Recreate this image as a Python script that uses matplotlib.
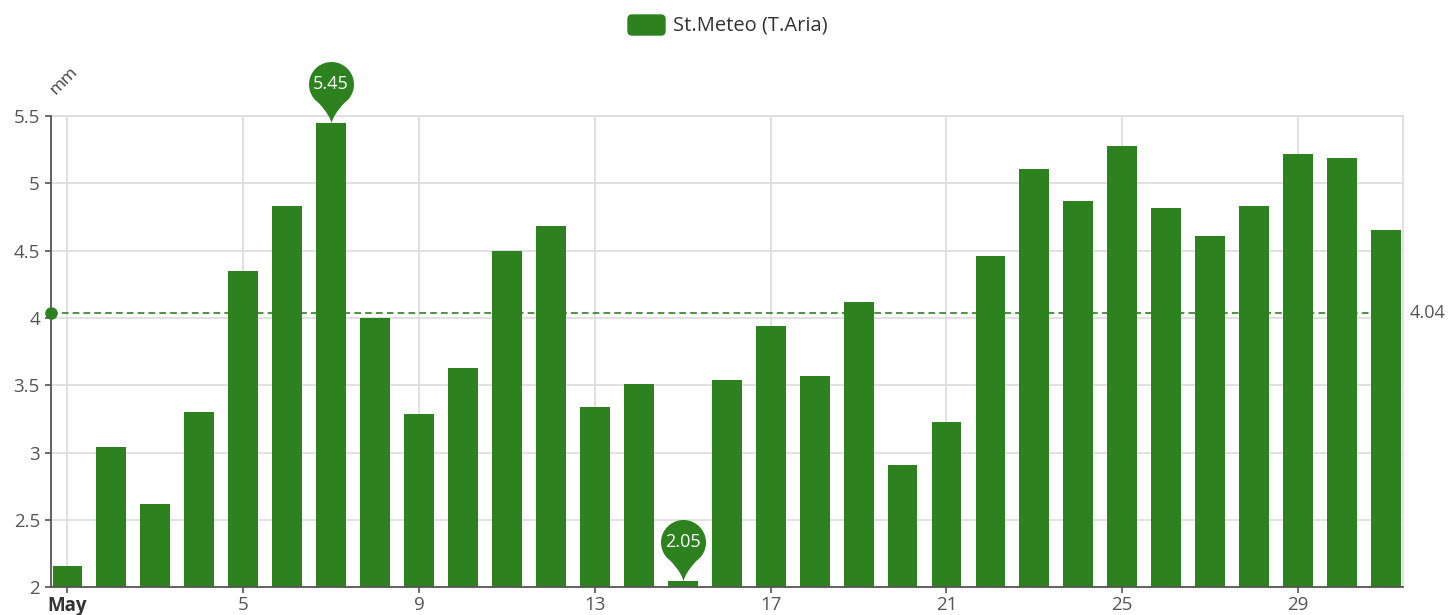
import numpy as np
import matplotlib
matplotlib.use("Agg")
import matplotlib.pyplot as plt
from matplotlib.path import Path
from matplotlib.patches import FancyBboxPatch
import matplotlib.transforms as mtransforms

# ---------------- data ----------------
days = list(range(1, 32))  # May 1 .. May 31
values = [2.16, 3.04, 2.62, 3.30, 4.35, 4.83, 5.45, 4.00, 3.29, 3.63,
          4.50, 4.68, 3.34, 3.51, 2.05, 3.54, 3.94, 3.57, 4.12, 2.91,
          3.23, 4.46, 5.11, 4.87, 5.28, 4.82, 4.61, 4.83, 5.22, 5.19, 4.65]
tick_days = [1, 5, 9, 13, 17, 21, 25, 29]
tick_labels = ["May", "5", "9", "13", "17", "21", "25", "29"]
y_ticks = [2, 2.5, 3, 3.5, 4, 4.5, 5, 5.5]
series_name = "St.Meteo (T.Aria)"
y_unit = "mm"

# ---------------- style ----------------
plt.rcParams['font.family'] = ['Open Sans', 'DejaVu Sans']
GREEN = '#2d821f'
AXIS = '#555555'
LABEL = '#555555'
GRID = '#dcdcdc'

W, H, DPI = 1448, 615, 100
fig = plt.figure(figsize=(W / DPI, H / DPI), dpi=DPI)
L, R, T, B = 51, 1402.7, 116, 587.3
ax = fig.add_axes([L / W, 1 - B / H, (R - L) / W, (B - T) / H])

ax.bar(days, values, width=0.68, color=GREEN, zorder=3)

ax.set_xlim(1 - 0.375, 31 + 0.38)
ax.set_ylim(2, 5.5)
ax.set_yticks(y_ticks)
ax.set_yticklabels([f"{v:g}" for v in y_ticks])
ax.set_xticks(tick_days)
ax.set_xticklabels(tick_labels)

ax.grid(True, color=GRID, lw=1.2, zorder=0)
for s in ('top', 'right'):
    ax.spines[s].set_color(GRID)
    ax.spines[s].set_linewidth(1.2)
for s in ('left', 'bottom'):
    ax.spines[s].set_color(AXIS)
    ax.spines[s].set_linewidth(1.3)
    ax.spines[s].set_zorder(4)
ax.tick_params(axis='both', direction='out', length=4, width=1.2, color=AXIS,
               labelcolor=LABEL, labelsize=13.5)
ax.tick_params(axis='y', pad=4)
ax.tick_params(axis='x', pad=2)
lbl0 = ax.get_xticklabels()[0]
lbl0.set_fontweight('bold')
lbl0.set_color('#333333')

# ---------------- average line ----------------
mean = float(np.mean(values))
ax.axhline(mean, color=GREEN, lw=1.2, ls=(0, (4, 2.5)), zorder=4)
ax.plot([ax.get_xlim()[0]], [mean], 'o', color=GREEN, ms=8, clip_on=False, zorder=6)
ax.annotate(f"{mean:.2f}", xy=(1, mean), xycoords=('axes fraction', 'data'),
            xytext=(5, 0), textcoords='offset points', ha='left', va='center',
            color=LABEL, fontsize=13)

# ---------------- pin markers (max / min) ----------------
r, c = 22.5, 39.0
a1, a2 = -55.0, 235.0
pr = (r * np.cos(np.radians(a1)), c + r * np.sin(np.radians(a1)))
pl = (r * np.cos(np.radians(a2)), c + r * np.sin(np.radians(a2)))
arc = Path.arc(a1, a2)
arc_v = arc.vertices[1:] * r + np.array([0, c])
arc_c = list(arc.codes[1:])
verts = [(0, 0), (0.8, 5), (5, 12), pr] + [tuple(v) for v in arc_v] + \
        [(-5, 12), (-0.8, 5), (0, 0), (0, 0)]
codes = [Path.MOVETO, Path.CURVE4, Path.CURVE4, Path.CURVE4] + arc_c + \
        [Path.CURVE4, Path.CURVE4, Path.CURVE4, Path.CLOSEPOLY]
pin = Path(np.array(verts), codes)
rescale = np.max(np.abs(pin.vertices))
ms = 2 * rescale * 72 / DPI

imax = int(np.argmax(values))
imin = int(np.argmin(values))
for i in (imax, imin):
    ax.plot([days[i]], [values[i]], marker=pin, ms=ms, color=GREEN, mec='none',
            clip_on=False, zorder=7)
    ax.annotate(f"{values[i]:.2f}", xy=(days[i], values[i]),
                xytext=(0, c * 72 / DPI), textcoords='offset points',
                ha='center', va='center', color='white', fontsize=13, zorder=8)

# ---------------- unit label ----------------
fig.text(64 / W, 1 - 81 / H, y_unit, rotation=45, ha='center', va='center',
         color='#444444', fontsize=12.5)

# ---------------- legend ----------------
box = FancyBboxPatch((628, H - 35), 37, 20, boxstyle="round,pad=0,rounding_size=4",
                     transform=mtransforms.IdentityTransform(), color=GREEN)
fig.patches.append(box)
fig.text(673 / W, 1 - 25 / H, series_name, ha='left', va='center',
         color='#333333', fontsize=14.5)

fig.savefig('out.png', dpi=DPI)
